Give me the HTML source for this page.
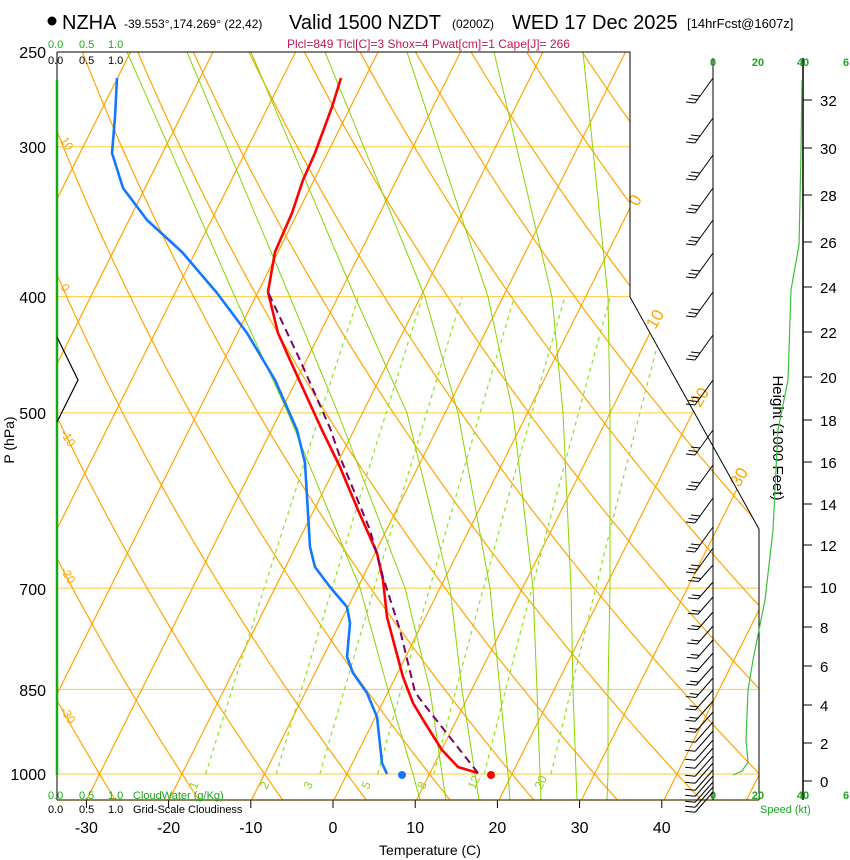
<!DOCTYPE html>
<html><head><meta charset="utf-8">
<style>
html,body{margin:0;padding:0;background:#fff;}
svg{display:block;font-family:"Liberation Sans",sans-serif;}
</style></head>
<body>
<svg id="s" width="850" height="860" viewBox="0 0 850 860" xmlns="http://www.w3.org/2000/svg">
<defs>
<clipPath id="cp"><polygon points="57,52 630,52 630,297 759,529 759,800 57,800"/></clipPath>
<clipPath id="cp2"><polygon points="57,297 630,297 759,529 759,774 57,774"/></clipPath>
</defs>
<rect width="850" height="860" fill="#fff"/>
<g id="grid" clip-path="url(#cp)"></g>
<g id="mix" clip-path="url(#cp2)"></g>
<g id="prof"></g>
<g id="extra"></g>
<polyline points="57,52 630,52 630,297 759,529 759,800" fill="none" stroke="#000" stroke-width="1"/>
<line x1="57" y1="52" x2="57" y2="800" stroke="#000" stroke-width="1"/>
<line x1="57" y1="800" x2="759" y2="800" stroke="#4a3c00" stroke-width="1.2"/>
<line x1="57" y1="80" x2="57" y2="775" stroke="#1aa81a" stroke-width="2.5"/>
<polyline points="57,337 78,380 57,422" fill="none" stroke="#000" stroke-width="1.2"/>
<circle cx="52" cy="21" r="4.5" fill="#000"/>
<text x="62" y="29" font-size="20">NZHA</text>
<text x="124" y="28" font-size="12">-39.553°,174.269° (22,42)</text>
<text x="289" y="29" font-size="20">Valid 1500 NZDT</text>
<text x="452" y="28" font-size="12">(0200Z)</text>
<text x="512" y="29" font-size="20">WED 17 Dec 2025</text>
<text x="687" y="28" font-size="13">[14hrFcst@1607z]</text>
<text x="287" y="48" font-size="12" fill="#c0185a">Plcl=849 Tlcl[C]=3 Shox=4 Pwat[cm]=1 Cape[J]= 266</text>
<g font-size="16" text-anchor="end">
<text x="46" y="58">250</text><text x="46" y="153">300</text><text x="46" y="303">400</text>
<text x="46" y="419">500</text><text x="46" y="595">700</text><text x="46" y="696">850</text><text x="46" y="780">1000</text>
</g>
<text transform="translate(14,440) rotate(-90)" font-size="14" text-anchor="middle">P (hPa)</text>
<g font-size="11" fill="#1aa81a"><text x="48" y="48">0.0</text><text x="79" y="48">0.5</text><text x="108" y="48">1.0</text></g>
<g font-size="11"><text x="48" y="64">0.0</text><text x="79" y="64">0.5</text><text x="108" y="64">1.0</text></g>
<g font-size="11" fill="#1aa81a"><text x="48" y="799">0.0</text><text x="79" y="799">0.5</text><text x="108" y="799">1.0</text><text x="133" y="799">CloudWater (g/Kg)</text></g>
<g font-size="11"><text x="48" y="813">0.0</text><text x="79" y="813">0.5</text><text x="108" y="813">1.0</text><text x="133" y="813">Grid-Scale Cloudiness</text></g>
<g font-size="16" text-anchor="middle" id="tx"></g>
<text x="430" y="855" font-size="14" text-anchor="middle">Temperature (C)</text>
<line x1="713" y1="58" x2="713" y2="800" stroke="#000" stroke-width="1"/>
<line x1="803" y1="58" x2="803" y2="800" stroke="#000" stroke-width="1.5"/>
<g font-size="11" fill="#1aa81a" font-weight="bold" text-anchor="middle">
<text x="713" y="66">0</text><text x="758" y="66">20</text><text x="803" y="66">40</text><text x="846" y="66">6</text>
<text x="713" y="799">0</text><text x="758" y="799">20</text><text x="803" y="799">40</text><text x="846" y="799">6</text>
</g>
<text x="760" y="813" font-size="11" fill="#1aa81a">Speed (kt)</text>
<g id="ht" font-size="15"></g>
<text transform="translate(773,438) rotate(90)" font-size="15" text-anchor="middle">Height (1000 Feet)</text>
<polyline fill="none" stroke="#3cc03c" stroke-width="1.2" points="802,80 801,150 800,200 799,245 791,290 788,380 778,430 773,530 765,600 760,625 753,660 748,690 746,740 748,762 742,771 733,775"/>
<g id="barbs" stroke="#000" stroke-width="1" fill="none"></g>
<script>
(function(){
var NS="http://www.w3.org/2000/svg";
function el(t,a,p){var e=document.createElementNS(NS,t);for(var k in a)e.setAttribute(k,a[k]);p.appendChild(e);return e;}
function Y(p){return 774-521*Math.log(1000/p);}
function X(T,y){return 347+8.25*T+0.5*(774-y);}
var g=document.getElementById('grid'),mx=document.getElementById('mix'),ex=document.getElementById('extra');
[300,400,500,700,850,1000].forEach(function(p){var y=Y(p);el('line',{x1:57,y1:y,x2:760,y2:y,stroke:'#ffc840','stroke-width':1},g);});
for(var T=-120;T<=60;T+=10){var y1=800,y2=52;el('line',{x1:X(T,y1),y1:y1,x2:X(T,y2),y2:y2,stroke:'#ffa500','stroke-width':1.2},g);}
for(var th=-40;th<=200;th+=10){var pts=[];for(var p=1060;p>=240;p-=10){var T=(th+273.15)*Math.pow(p/1000,0.2857)-273.15;var y=Y(p);pts.push(X(T,y).toFixed(1)+','+y.toFixed(1));}
el('polyline',{points:pts.join(' '),fill:'none',stroke:'#ffa500','stroke-width':1.2},g);}
// moist adiabats (traced)
var ys=[52,297,413,588,690,774,800];
var ML=[[127,235,288,360,388,413,420],[187,290,338,405,430,442,446],[251,355,407,450,462,475,479],[325,425,458,490,500,508,510],[407,488,513,533,537,540,541],[494,552,563,571,573,576,577],[583,608,610,610,608,608,607]];
ML.forEach(function(l){var pts=l.map(function(x,i){return x+','+ys[i];});el('polyline',{points:pts.join(' '),fill:'none',stroke:'#88d400','stroke-width':1,'stroke-linejoin':'round'},g);});
function tdw(w,p){var e=w*p/(622+w);var l=Math.log(e/6.112);return 243.5*l/(17.67-l);}
[1,2,3,5,8,12,20].forEach(function(w){var pts=[];for(var p=1000;p>=400;p-=20){var y=Y(p);pts.push(X(tdw(w,p),y).toFixed(1)+','+y.toFixed(1));}
 el('polyline',{points:pts.join(' '),fill:'none',stroke:'#90e020','stroke-width':1.2,'stroke-dasharray':'4,4'},mx);
 var x=X(tdw(w,1000),785)-4;var t=el('text',{x:0,y:0,transform:'translate('+x.toFixed(1)+',790) rotate(-65)','font-size':12,fill:'#90d020'},ex);t.textContent=w;});
[[0,640,203],[10,660,322],[20,705,400],[30,744,480]].forEach(function(a){var t=el('text',{transform:'translate('+a[1]+','+a[2]+') rotate(-60)','font-size':17,fill:'#ffa500','text-anchor':'middle'},ex);t.textContent=a[0];});
[[10,60,140],[0,60,287],[-10,60,433],[-20,60,570],[-30,60,710]].forEach(function(a){var t=el('text',{transform:'translate('+a[1]+','+a[2]+') rotate(58)','font-size':12,fill:'#ffa500'},ex);t.textContent=a[0];});
var tx=document.getElementById('tx');
[-30,-20,-10,0,10,20,30,40].forEach(function(T){var x=333+8.22*T;el('line',{x1:x,y1:800,x2:x,y2:808,stroke:'#000'},ex);var t=el('text',{x:x,y:833},tx);t.textContent=T;});
var ht=document.getElementById('ht');var hy=[781,743,705,666,627,587,545,504,462,420,377,332,287,242,195,148,100];
hy.forEach(function(y,i){el('line',{x1:803,y1:y,x2:812,y2:y,stroke:'#000'},ht);var t=el('text',{x:820,y:y+6},ht);t.textContent=i*2;});
var pr=document.getElementById('prof');
el('polyline',{points:"478,773 458,767 442,750 425,723 413,703 403,677 395,647 387,617 383,580 377,553 358,510 340,467 322,430 290,360 278,333 268,292 275,252 292,213 303,180 315,153 332,107 341,78",fill:'none',stroke:'#ff0000','stroke-width':2.6,'stroke-linejoin':'round'},pr);
el('polyline',{points:"387,774 382,763 377,717 367,693 353,673 347,657 350,623 347,607 330,587 315,567 310,547 305,463 297,430 275,380 247,333 217,293 182,252 147,220 123,188 112,153 115,117 117,78",fill:'none',stroke:'#1478ff','stroke-width':2.6,'stroke-linejoin':'round'},pr);
el('polyline',{points:"478,773 423,703 415,692 400,630 383,577 370,530 340,457 330,428 300,360 268,292",fill:'none',stroke:'#800060','stroke-width':2,'stroke-dasharray':'8,5'},pr);
el('circle',{cx:491,cy:775,r:4,fill:'#ff0000'},pr);
el('circle',{cx:402,cy:775,r:4,fill:'#1478ff'},pr);
var b=document.getElementById('barbs');
var up=[78,118,155,188,220,253,292,335,380,430,465,498,527,548];
var lo=[565,582,597,612,626,640,653,666,678,690,701,712,722,731,740,748,756,763,770,776,782,787,792];
up.forEach(function(y){var x0=713,x1=695,y1=y+25;el('line',{x1:x0,y1:y,x2:x1,y2:y1},b);
 for(var k=0;k<3;k++){var t=k*3.5;var bx=x1+t*0.72,by=y1-t;el('line',{x1:bx,y1:by,x2:bx-9,y2:by-1},b);} });
lo.forEach(function(y,i){var len=22+Math.min(i,10)*0.5;var x0=713,x1=713-len*0.66,y1=y+len*0.75;el('line',{x1:x0,y1:y,x2:x1,y2:y1},b);
 el('line',{x1:x1,y1:y1,x2:x1-10,y2:y1-1},b);if(i<12){el('line',{x1:x1+2.5,y1:y1-3,x2:x1-6,y2:y1-4},b);} });
})();
</script>
</svg>
</body></html>
